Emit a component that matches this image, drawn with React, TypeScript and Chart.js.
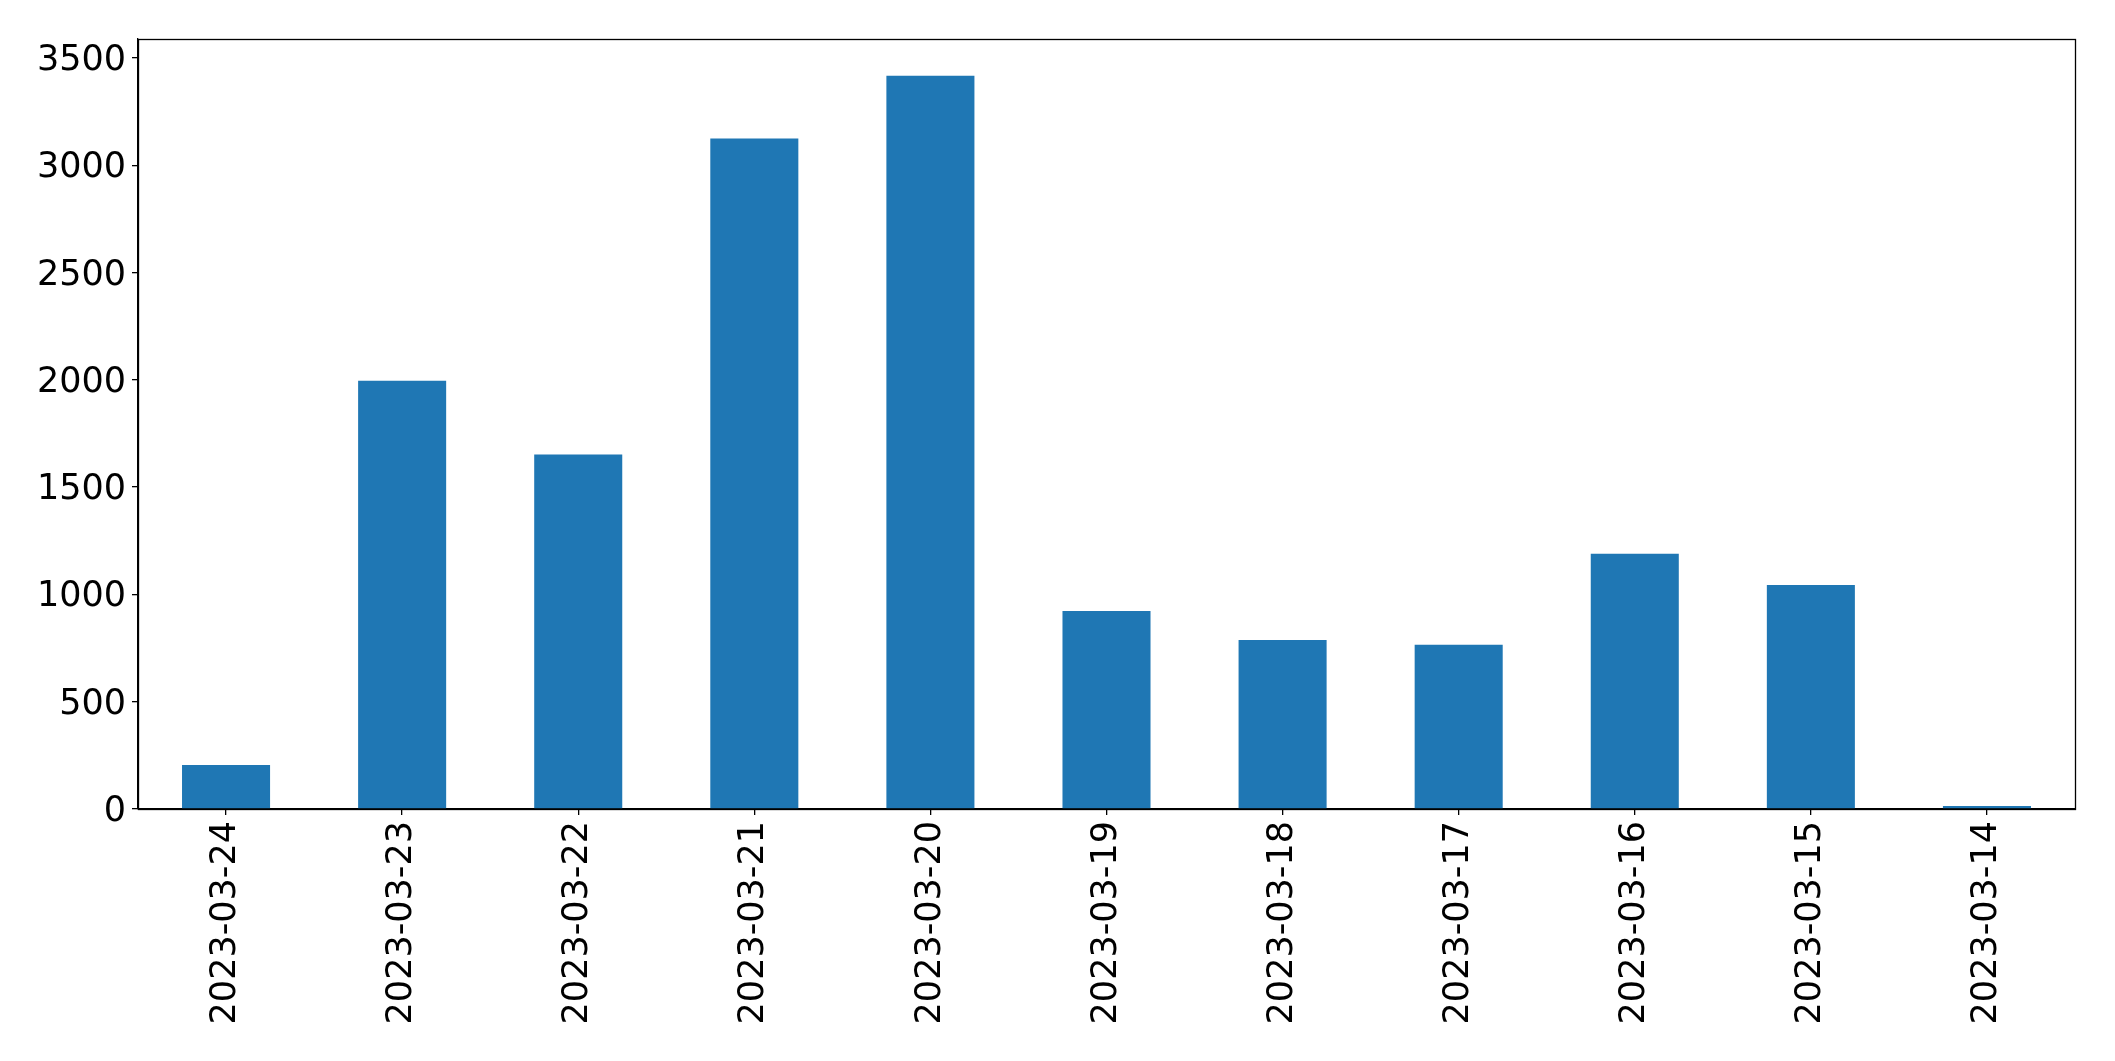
import React, { useEffect, useRef } from "react";
import { Chart, registerables } from "chart.js";

Chart.register(...registerables);

const categories = [
  "2023-03-24",
  "2023-03-23",
  "2023-03-22",
  "2023-03-21",
  "2023-03-20",
  "2023-03-19",
  "2023-03-18",
  "2023-03-17",
  "2023-03-16",
  "2023-03-15",
  "2023-03-14",
];
const counts = [205, 1995, 1652, 3124, 3417, 923, 788, 765, 1189, 1044, 14];
const yTicks = [0, 500, 1000, 1500, 2000, 2500, 3000, 3500];
const yMax = 3588;

const W = 2115;
const H = 1061;

const boxPlugin = {
  id: "boxPlugin",
  afterDraw(chart: any) {
    const { ctx, chartArea } = chart;
    ctx.save();
    ctx.strokeStyle = "#000";
    ctx.lineWidth = 1.3;
    ctx.strokeRect(
      Math.round(chartArea.left) + 0.5,
      Math.round(chartArea.top) + 0.5,
      Math.round(chartArea.right - chartArea.left),
      Math.round(chartArea.bottom - chartArea.top)
    );
    ctx.restore();
  },
};

export default function App() {
  const ref = useRef<HTMLCanvasElement | null>(null);

  useEffect(() => {
    if (!ref.current) return;
    const font = { family: "'DejaVu Sans', sans-serif", size: 35 };
    const chart = new Chart(ref.current, {
      type: "bar",
      data: {
        labels: categories,
        datasets: [
          {
            data: counts,
            backgroundColor: "#1f77b4",
            borderWidth: 0,
            barPercentage: 0.5,
            categoryPercentage: 1,
          },
        ],
      },
      options: {
        responsive: false,
        animation: false,
        devicePixelRatio: 1,
        layout: { padding: { left: 0, top: 39, right: 40, bottom: 0 } },
        plugins: {
          legend: { display: false },
          tooltip: { enabled: false },
        },
        scales: {
          x: {
            offset: true,
            grid: {
              offset: false,
              drawOnChartArea: false,
              drawTicks: true,
              tickLength: 6,
              color: "#000",
              lineWidth: 1.3,
            },
            border: { display: true, color: "#000", width: 1.3 },
            ticks: {
              color: "#000",
              font,
              minRotation: 90,
              maxRotation: 90,
              autoSkip: false,
              padding: 6,
            },
            afterFit(scale: any) {
              scale.height = H - 809;
            },
          },
          y: {
            min: 0,
            max: yMax,
            grid: {
              drawOnChartArea: false,
              drawTicks: true,
              tickLength: 6,
              color: "#000",
              lineWidth: 1.3,
            },
            border: { display: true, color: "#000", width: 1.3 },
            afterBuildTicks(scale: any) {
              scale.ticks = yTicks.map((v) => ({ value: v }));
            },
            ticks: {
              autoSkip: false,
              color: "#000",
              font,
              padding: 6,
              labelOffset: 3,
              callback: (v: any) => String(v),
            },
            afterFit(scale: any) {
              scale.width = 138;
            },
          },
        },
      },
      plugins: [boxPlugin],
    });
    return () => chart.destroy();
  }, []);

  return (
    <div style={{ position: "fixed", left: 0, top: 0, width: W, height: H, background: "#fff" }}>
      <canvas ref={ref} width={W} height={H} style={{ width: W, height: H, display: "block" }} />
    </div>
  );
}
